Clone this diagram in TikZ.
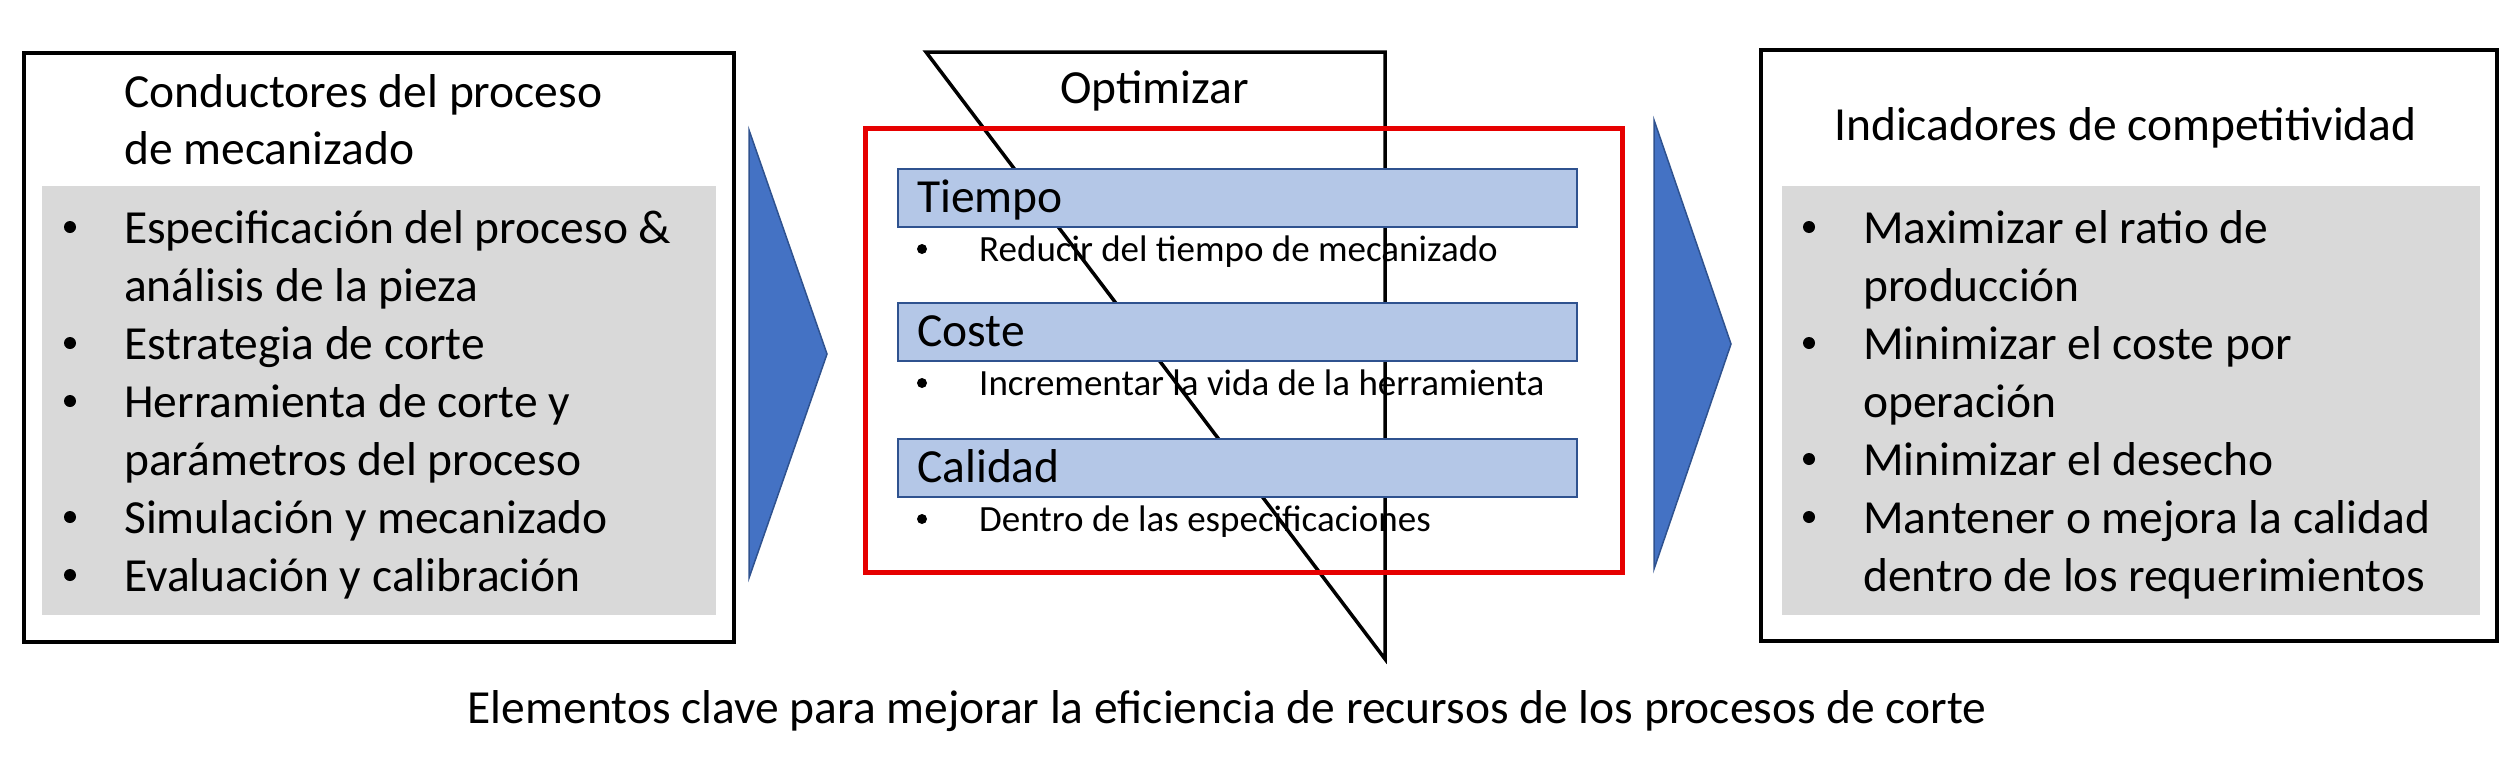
\documentclass[tikz,border=0pt]{standalone}
\usepackage{fontspec}
\setmainfont{Carlito}
\definecolor{grayfill}{HTML}{D9D9D9}
\definecolor{barfill}{HTML}{B4C7E7}
\definecolor{barline}{HTML}{2F528F}
\definecolor{arrowfill}{HTML}{4472C4}
\definecolor{redline}{HTML}{E60000}
\begin{document}
\begin{tikzpicture}[x=1pt,y=-1pt,
  big/.style={font=\fontsize{47.5}{58}\selectfont, inner sep=0pt, anchor=base west},
  small/.style={font=\fontsize{37}{45}\selectfont, inner sep=0pt, anchor=base west},
  dotbig/.style={circle, fill=black, inner sep=0pt, minimum size=12pt},
  dotsmall/.style={circle, fill=black, inner sep=0pt, minimum size=10pt},
  frame/.style={draw=black, line width=4pt},
  panel/.style={fill=grayfill},
  bar/.style={fill=barfill, draw=barline, line width=1.5pt},
  chevron/.style={fill=arrowfill, draw=barline, line width=1.5pt, line join=miter}]
\useasboundingbox (0,0) rectangle (2518,756);

% ---------- left box ----------
\draw[frame] (24,53) rectangle (734,642);
\fill[panel] (42,186) rectangle (716,615);
\node[big] (lt1) at (124,107) {Conductores del proceso};
\node[big] (lt2) at (124,164) {de mecanizado};
\node[dotbig] (lb1) at (70,227) {};
\node[big] (l1)  at (124,243) {Especificación del proceso \&};
\node[big] (l1b) at (124,301) {análisis de la pieza};
\node[dotbig] (lb2) at (70,343) {};
\node[big] (l2)  at (124,359) {Estrategia de corte};
\node[dotbig] (lb3) at (70,401) {};
\node[big] (l3)  at (124,417) {Herramienta de corte y};
\node[big] (l3b) at (124,475) {parámetros del proceso};
\node[dotbig] (lb4) at (70,517) {};
\node[big] (l4)  at (124,533) {Simulación y mecanizado};
\node[dotbig] (lb5) at (70,575) {};
\node[big] (l5)  at (124,591) {Evaluación y calibración};

% ---------- left chevron ----------
\draw[chevron] (749,130) -- (827,354) -- (749,578) -- cycle;

% ---------- middle ----------
\draw[line width=3.5pt, line join=miter] (926,52) -- (1385,52) -- (1385,659) -- cycle;
\node[big] (opt) at (1060,103) {Optimizar};
\draw[redline, line width=5pt] (865,128) rectangle (1622,572);
\draw[bar] (898,169) rectangle (1577,227);
\draw[bar] (898,303) rectangle (1577,361);
\draw[bar] (898,439) rectangle (1577,497);
\node[big] (tiempo)  at (917,212) {Tiempo};
\node[big] (coste)   at (917,346) {Coste};
\node[big] (calidad) at (917,482) {Calidad};
\node[dotsmall] (mb1) at (922,249) {};
\node[small] (m1)  at (979,261) {Reducir del tiempo de mecanizado};
\node[dotsmall] (mb2) at (922,383) {};
\node[small] (m2)  at (979,395) {Incrementar la vida de la herramienta};
\node[dotsmall] (mb3) at (922,519) {};
\node[small] (m3)  at (979,531) {Dentro de las especificaciones};

% ---------- right chevron ----------
\draw[chevron] (1654,120) -- (1731,344) -- (1654,569) -- cycle;

% ---------- right box ----------
\draw[frame] (1761,50) rectangle (2497,641);
\fill[panel] (1782,186) rectangle (2480,615);
\node[big] (rt) at (1834,140) {Indicadores de competitividad};
\node[dotbig] (rb1) at (1809,227) {};
\node[big] (r1)  at (1863,243) {Maximizar el ratio de};
\node[big] (r1b) at (1863,301) {producción};
\node[dotbig] (rb2) at (1809,343) {};
\node[big] (r2)  at (1863,359) {Minimizar el coste por};
\node[big] (r2b) at (1863,417) {operación};
\node[dotbig] (rb3) at (1809,459) {};
\node[big] (r3)  at (1863,475) {Minimizar el desecho};
\node[dotbig] (rb4) at (1809,517) {};
\node[big] (r4)  at (1863,533) {Mantener o mejora la calidad};
\node[big] (r4b) at (1863,591) {dentro de los requerimientos};

% ---------- caption ----------
\node[big, anchor=base] (cap) at (1227,723) {Elementos clave para mejorar la eficiencia de recursos de los procesos de corte};
\end{tikzpicture}
\end{document}
